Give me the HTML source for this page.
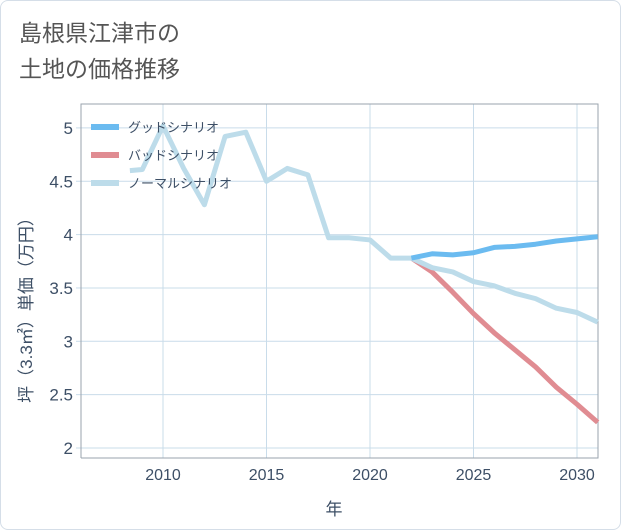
<!DOCTYPE html>
<html><head><meta charset="utf-8"><style>
body{margin:0;background:#fff;font-family:"Liberation Sans","Noto Sans CJK JP",sans-serif;}
#card{position:absolute;left:0;top:0;width:619px;height:528px;border:1px solid #d5dee8;border-radius:8px;background:#fff;}
#title{position:absolute;left:18px;top:14px;font-size:23px;line-height:36px;color:#555;font-weight:normal;}
</style></head><body>
<div id="card">
<div id="title">島根県江津市の<br>土地の価格推移</div>
<svg id="chart" width="621" height="530" style="position:absolute;left:0;top:0"></svg>
</div>
<script>
const xTicks=[2010,2015,2020,2025,2030];
const yTicks=[2,2.5,3,3.5,4,4.5,5];
const yTickLabels=["2","2.5","3","3.5","4","4.5","5"];
const normalYears=[2008.4,2009,2010,2011,2012,2013,2014,2015,2016,2017,2018,2019,2020,2021,2022,2023,2024,2025,2026,2027,2028,2029,2030,2031];
const normalVals=[4.6,4.61,5.02,4.62,4.28,4.92,4.96,4.5,4.62,4.56,3.97,3.97,3.95,3.78,3.78,3.69,3.65,3.56,3.52,3.45,3.40,3.31,3.27,3.18];
const futureYears=[2022,2023,2024,2025,2026,2027,2028,2029,2030,2031];
const goodVals=[3.78,3.82,3.81,3.83,3.88,3.89,3.91,3.94,3.96,3.98];
const badVals=[3.78,3.65,3.46,3.26,3.08,2.92,2.76,2.57,2.41,2.24];
const L=80,R=597,T=103,B=457;
const x=v=>162+(v-2010)*20.7;
const y=v=>447-(v-2)*106.7;
const svg=document.getElementById('chart');
const NS='http://www.w3.org/2000/svg';
function mk(tag,at){const e=document.createElementNS(NS,tag);for(const k in at)e.setAttribute(k,at[k]);svg.appendChild(e);return e;}
xTicks.forEach(t=>{
 const g=mk('line',{x1:x(t),x2:x(t),y1:T,y2:B,stroke:'#c9dcea','stroke-width':1});
 
 
 const tx=mk('text',{x:x(t),y:479,'text-anchor':'middle','font-size':16,fill:'#3d4f66'});
 tx.textContent=t;
 
 
});
yTicks.forEach((t,i)=>{
 const g=mk('line',{x1:L,x2:R,y1:y(t),y2:y(t),stroke:'#c9dcea','stroke-width':1});
 
 
 mk('line',{x1:L-5,x2:L,y1:y(t),y2:y(t),stroke:'#c9dcea'});
 const tx=mk('text',{x:72,y:y(t)+6,'text-anchor':'end','font-size':17,fill:'#3d4f66'});
 tx.textContent=yTickLabels[i];
 
 
});
const box=mk('path',{d:`M${L},${B}V${T}H${R}V${B}H${L}`,fill:'none',stroke:'#9aa3ad','stroke-width':1});


function series(xs,vs,color,name){
 const p=mk('polyline',{points:xs.map((t,i)=>x(t)+','+y(vs[i])).join(' '),fill:'none',stroke:color,'stroke-width':5,'stroke-linejoin':'round'});
 
 
}
series(futureYears,badVals,'#e08c92','bad-scenario-line');
series(normalYears,normalVals,'#bddcea','normal-scenario-line');
series(futureYears,goodVals,'#6bbbf0','good-scenario-line');
const legend=[['グッドシナリオ','#6bbbf0'],['バッドシナリオ','#e08c92'],['ノーマルシナリオ','#bddcea']];
legend.forEach((l,i)=>{
 const yy=126+i*28;
 const ln=mk('line',{x1:90,x2:118,y1:yy,y2:yy,stroke:l[1],'stroke-width':6});
 
 
 const t=mk('text',{x:127,y:yy+5,'font-size':13,fill:'#3d4f66'});
 t.textContent=l[0];
 
 
});
const xt=mk('text',{x:333,y:514,'text-anchor':'middle','font-size':17,fill:'#3d4f66'});
xt.textContent='年';


const yt=mk('text',{x:0,y:0,'text-anchor':'middle','font-size':17,fill:'#3d4f66',transform:'translate(31,305) rotate(-90)'});
yt.textContent='坪（3.3㎡）単価（万円）';


</script>
</body></html>
